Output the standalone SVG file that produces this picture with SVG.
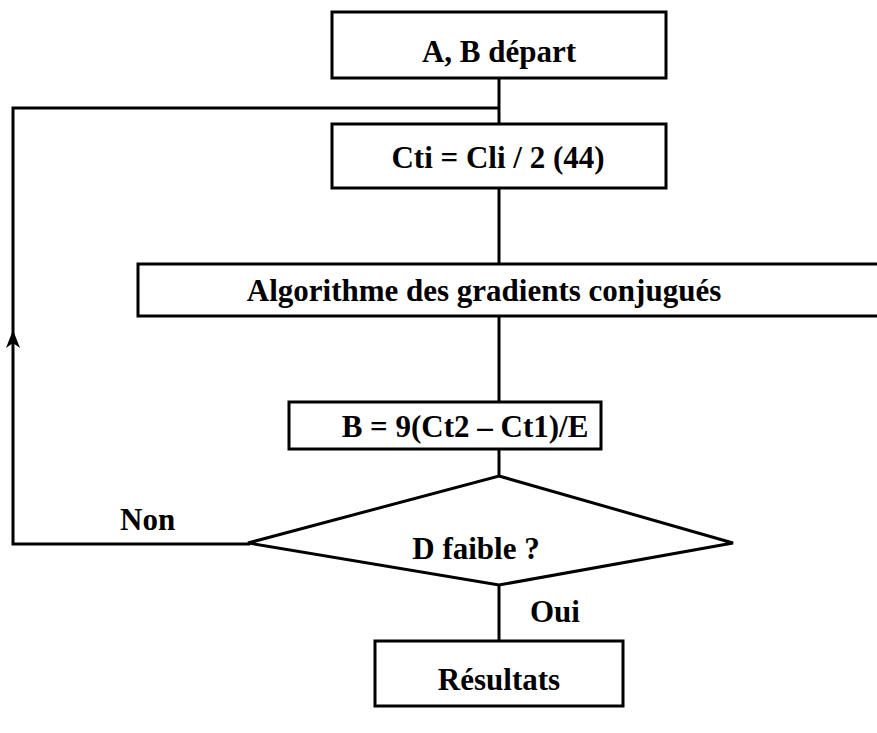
<svg xmlns="http://www.w3.org/2000/svg" width="877" height="733" viewBox="0 0 877 733">
  <style>
    .box { fill: #fff; stroke: #000; stroke-width: 3; }
    .line { fill: none; stroke: #000; stroke-width: 3; }
    text { font-family: "Liberation Serif", "Times New Roman", serif; font-weight: bold; font-size: 31px; fill: #000; }
    .c { text-anchor: middle; }
  </style>
  <rect width="877" height="733" fill="#fff"/>

  <g id="connectors">
    <line class="line" x1="499" y1="78" x2="499" y2="124"/>
    <line class="line" x1="499" y1="188" x2="499" y2="264"/>
    <line class="line" x1="499" y1="316" x2="499" y2="402"/>
    <line class="line" x1="499" y1="449" x2="499" y2="476"/>
    <line class="line" x1="499" y1="585" x2="499" y2="641"/>
    <!-- feedback loop: "Non" branch back to the top -->
    <polyline class="line" points="250,544 13,544 13,108 499,108"/>
    <path d="M6,348 L13,330 L20,348 L13,343 Z" fill="#000"/>
  </g>

  <g id="start">
    <rect class="box" x="332" y="12" width="334" height="66"/>
    <text class="c" x="499" y="62">A, B départ</text>
  </g>

  <g id="init">
    <rect class="box" x="332" y="124" width="334" height="64"/>
    <text class="c" x="498" y="168">Cti = Cli / 2 (44)</text>
  </g>

  <g id="gradient">
    <rect class="box" x="138" y="264" width="760" height="52"/>
    <text class="c" x="484" y="301">Algorithme des gradients conjugués</text>
  </g>

  <g id="update">
    <rect class="box" x="289" y="402" width="312" height="47"/>
    <text class="c" x="465" y="437">B = 9(Ct2 – Ct1)/E</text>
  </g>

  <g id="test">
    <polygon class="box" points="499,476 733,543 499,585 248,543"/>
    <text class="c" x="476" y="559">D faible ?</text>
  </g>

  <g id="labels">
    <text x="120" y="530">Non</text>
    <text x="530" y="622">Oui</text>
  </g>

  <g id="result">
    <rect class="box" x="375" y="641" width="248" height="65"/>
    <text class="c" x="499" y="690">Résultats</text>
  </g>
</svg>
